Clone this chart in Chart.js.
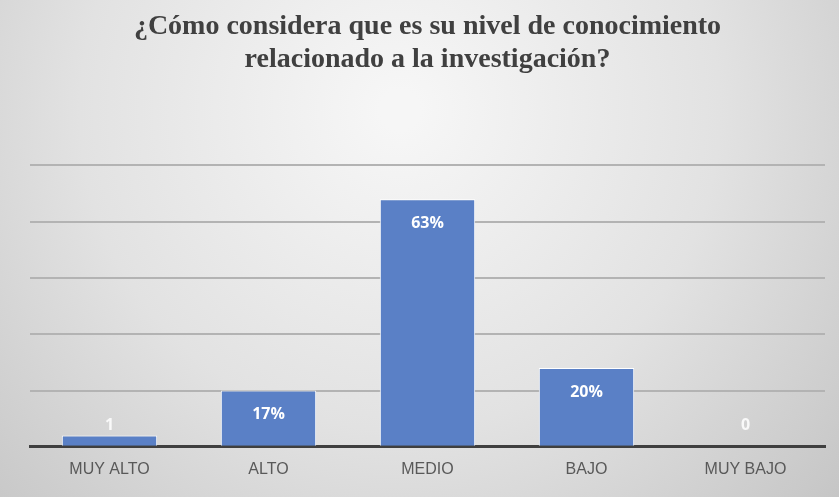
<!DOCTYPE html>
<html>
<head>
<meta charset="utf-8">
<script src="https://cdn.jsdelivr.net/npm/chart.js@4/dist/chart.umd.min.js"></script>
<style>
  html, body { margin: 0; padding: 0; background: #fff; }
  #wrap { width: 839px; height: 497px; }
</style>
</head>
<body>
<div id="wrap"><canvas id="nivel"></canvas></div>
<script>
// respuestas (conteo) y etiquetas tal como aparecen en el grafico
const categorias = ['MUY ALTO', 'ALTO', 'MEDIO', 'BAJO', 'MUY BAJO'];
const respuestas = [1, 5, 22, 7, 0];
const etiquetas = ['1', '17%', '63%', '20%', '0'];
const ejeY = [0, 5, 10, 15, 20, 25];

// fondo gris con degradado
const fondo = {
    id: 'fondo',
    beforeDraw(chart) {
        const ctx = chart.ctx;
        const w = chart.width, h = chart.height;
        ctx.save();
        const g = ctx.createRadialGradient(400, 110, 20, 400, 110, 620);
        g.addColorStop(0, '#f6f6f6');
        g.addColorStop(0.5, '#e2e2e2');
        g.addColorStop(1, '#c2c2c2');
        ctx.fillStyle = g;
        ctx.fillRect(0, 0, w, h);
        ctx.restore();
    }
};

// etiquetas blancas dentro de las barras
const valores = {
    id: 'valores',
    afterDatasetsDraw(chart) {
        const ctx = chart.ctx;
        const meta = chart.getDatasetMeta(0);
        const base = chart.scales.y.getPixelForValue(0);
        ctx.save();
        ctx.font = 'bold 16px "Open Sans", "Liberation Sans", sans-serif';
        ctx.textAlign = 'center';
        ctx.textBaseline = 'middle';
        meta.data.forEach(function (bar, i) {
            var y = Math.min(bar.y + 24, base - 21);
            ctx.fillStyle = respuestas[i] > 1 ? '#ffffff' : 'rgba(255,255,255,0.85)';
            ctx.fillText(etiquetas[i], bar.x, y);
        });
        ctx.restore();
    }
};

new Chart(document.getElementById('nivel'), {
    type: 'bar',
    data: {
        labels: categorias,
        datasets: [{
            data: respuestas,
            backgroundColor: '#5a80c6',
            borderColor: '#ffffff',
            borderWidth: 1,
            barPercentage: 0.6,
            categoryPercentage: 1
        }]
    },
    options: {
        responsive: true,
        maintainAspectRatio: false,
        animation: false,
        layout: { padding: { left: 30, right: 14, top: 0, bottom: 13 } },
        plugins: {
            legend: { display: false },
            tooltip: { enabled: false },
            title: {
                display: true,
                text: ['¿Cómo considera que es su nivel de conocimiento', 'relacionado a la investigación?'],
                color: '#404040',
                font: { family: '"Liberation Serif", "DejaVu Serif", serif', size: 28, weight: 'bold', lineHeight: 1.15 },
                padding: { top: 11, bottom: 90 }
            }
        },
        scales: {
            x: {
                grid: { display: false },
                border: { display: true, color: '#3f3f3f', width: 3 },
                ticks: {
                    color: '#595959',
                    font: { family: '"Liberation Sans", sans-serif', size: 16 },
                    padding: 5
                }
            },
            y: {
                min: ejeY[0],
                max: ejeY[ejeY.length - 1],
                afterBuildTicks(axis) {
                    axis.ticks = ejeY.map(function (v) { return { value: v }; });
                },
                grid: { color: '#b3b3b3', lineWidth: 2, drawTicks: false },
                border: { display: false },
                ticks: { display: false }
            }
        }
    },
    plugins: [fondo, valores]
});
</script>
</body>
</html>
